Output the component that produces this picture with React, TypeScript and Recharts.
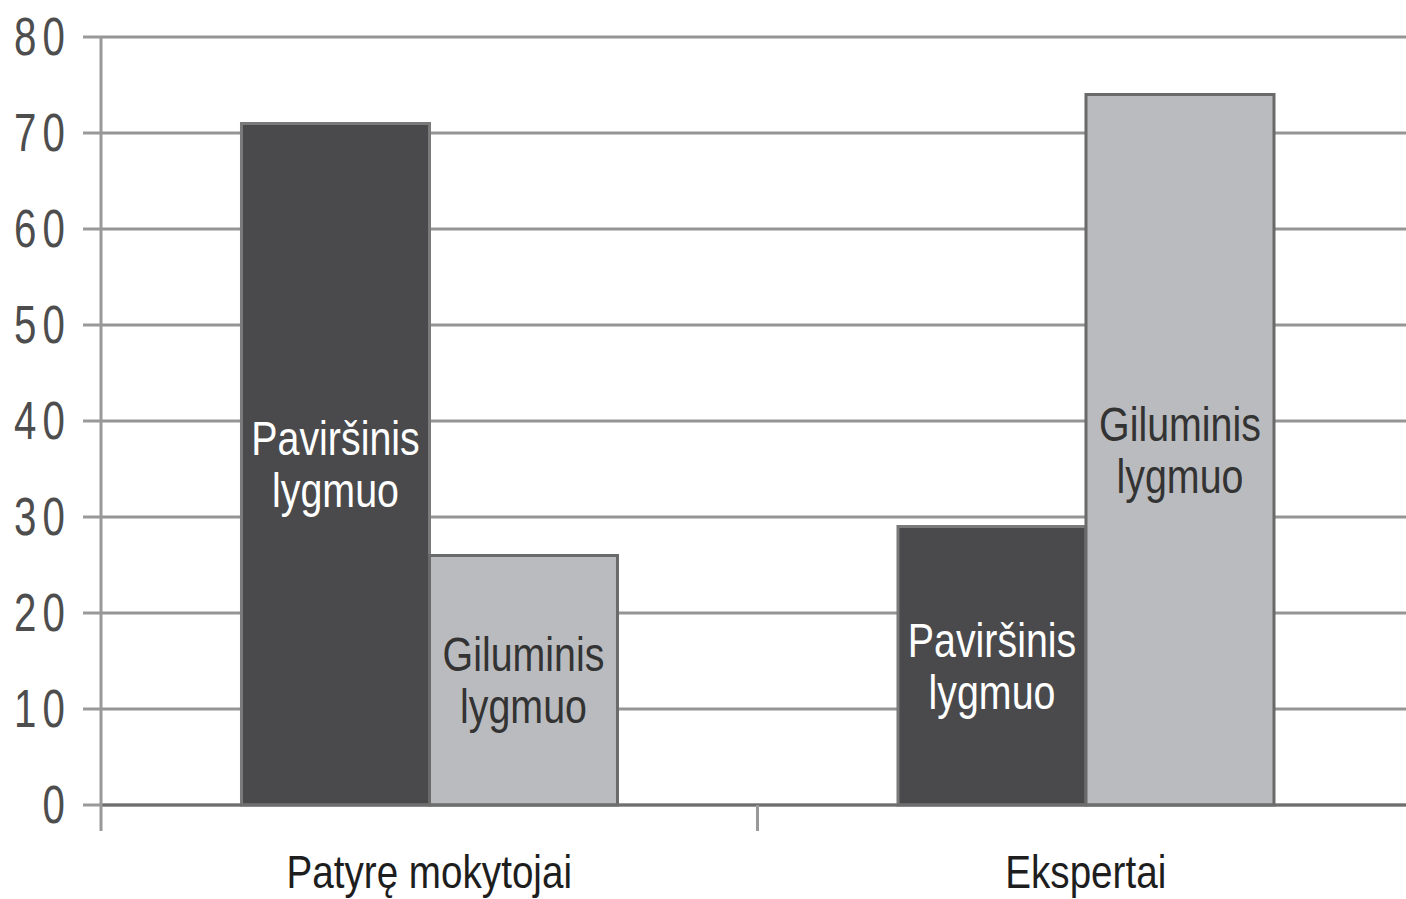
import React from 'react';
import { BarChart, Bar, XAxis, YAxis, CartesianGrid } from 'recharts';

const categories = ['Patyrę mokytojai', 'Ekspertai'];
const pavirsinis = [71, 29];
const giluminis = [26, 74];
const seriesLabels = [['Paviršinis', 'lygmuo'], ['Giluminis', 'lygmuo']];
const yTicks = [0, 10, 20, 30, 40, 50, 60, 70, 80];

const data = categories.map((name, i) => ({ name, pav: pavirsinis[i], gil: giluminis[i] }));

const FONT = "'Liberation Sans', Arial, sans-serif";
const SQUEEZE = 0.82;

const makeLabel = (lines: string[], color: string) => (props: any) => {
  const { x, y, width, height } = props;
  const cx = Number(x) + Number(width) / 2;
  const cy = Number(y) + Number(height) / 2;
  return (
    <g transform={`translate(${cx},${cy}) scale(${SQUEEZE},1)`}>
      <text textAnchor="middle" fill={color} fontSize={48} fontFamily={FONT}>
        <tspan x={0} y={-9}>{lines[0]}</tspan>
        <tspan x={0} y={43}>{lines[1]}</tspan>
      </text>
    </g>
  );
};

const YTick = (props: any) => {
  const { x, y, payload } = props;
  return (
    <g transform={`translate(${x},${y}) scale(0.76,1)`}>
      <text textAnchor="end" dy="0.33em" fontSize={53} fill="#4d4d4d" fontFamily={FONT} letterSpacing={8} dx={8}>
        {payload.value}
      </text>
    </g>
  );
};

const XTick = (props: any) => {
  const { x, y, payload } = props;
  const off = Number(payload?.offset) || 0;
  return (
    <g>
      {off > 0 && (
        <line x1={x - off} x2={x - off} y1={y} y2={y + 26} stroke="#999" strokeWidth={3} />
      )}
      <g transform={`translate(${x},${y}) scale(0.84,1)`}>
        <text textAnchor="middle" y={83} fontSize={46} fill="#1e1e1e" fontFamily={FONT}>
          {payload.value}
        </text>
      </g>
    </g>
  );
};

export default function App() {
  return (
    <div style={{ position: 'absolute', left: 0, top: 0, width: 1406, height: 899, overflow: 'hidden', background: '#fff' }}>
      <BarChart
        width={1414}
        height={899}
        data={data}
        margin={{ top: 37, right: 0, bottom: 93, left: 0 }}
        barCategoryGap="21.4%"
        barGap={0}
        style={{ fontFamily: FONT }}
      >
        <CartesianGrid vertical={false} stroke="#959595" strokeWidth={3} />
        <XAxis
          dataKey="name"
          height={1}
          tickLine={false}
          axisLine={{ stroke: '#6e6e6e', strokeWidth: 3 }}
          tickSize={0}
          tickMargin={0}
          tick={<XTick />}
          interval={0}
        />
        <YAxis
          width={101}
          domain={[0, 80]}
          ticks={yTicks}
          interval={0}
          tickSize={18}
          tickMargin={18}
          axisLine={{ stroke: '#999', strokeWidth: 3 }}
          tickLine={{ stroke: '#999', strokeWidth: 3 }}
          tick={<YTick />}
        />
        <Bar dataKey="pav" fill="#4a4a4c" stroke="#7a7a7a" strokeWidth={3} isAnimationActive={false}
          label={makeLabel(seriesLabels[0], '#ffffff')} />
        <Bar dataKey="gil" fill="#babbbe" stroke="#6a6a6a" strokeWidth={3} isAnimationActive={false}
          label={makeLabel(seriesLabels[1], '#333333')} />
      </BarChart>
    </div>
  );
}
